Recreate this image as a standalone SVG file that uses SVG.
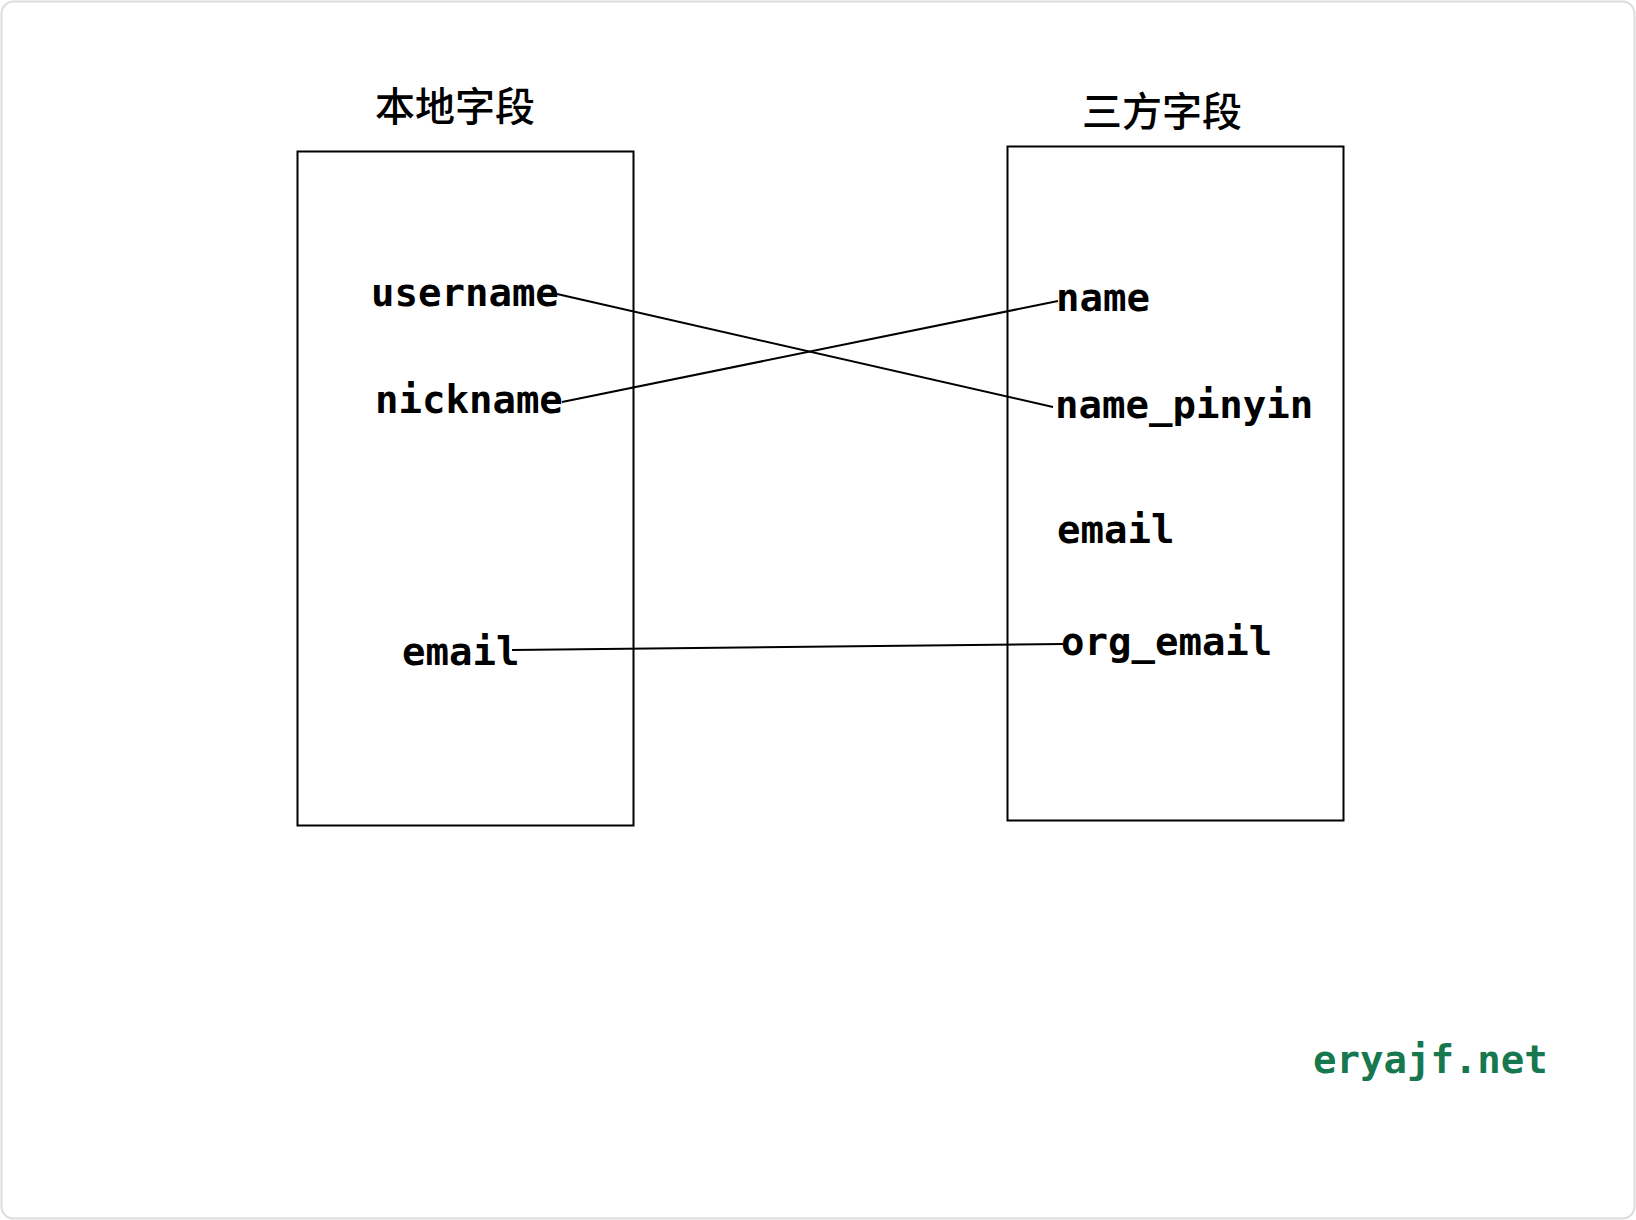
<svg xmlns="http://www.w3.org/2000/svg" width="1636" height="1220" viewBox="0 0 1636 1220">
<style>
.box{fill:none;stroke:#000;stroke-width:2}
.title{font-family:"Noto Sans CJK SC","Noto Sans",sans-serif;font-size:40px;font-weight:500;fill:#000;text-anchor:middle}
.field{font-family:"DejaVu Sans Mono","Liberation Mono",monospace;font-size:39px;font-weight:bold;fill:#000}
.conn{stroke:#000;stroke-width:2;fill:none}
.mark{font-family:"DejaVu Sans Mono","Liberation Mono",monospace;font-size:39px;font-weight:bold;fill:#17784f}
</style>
<rect x="0" y="0" width="1636" height="1220" fill="#fff"/>
<rect x="1.5" y="1.5" width="1633" height="1217" rx="12" fill="#fff" stroke="#dcdcdc" stroke-width="2"/>
<g id="local">
<text class="title" x="455" y="121">本地字段</text>
<rect class="box" x="297.5" y="151.5" width="336" height="674"/>
<text class="field" x="371" y="306">username</text>
<text class="field" x="375" y="413">nickname</text>
<text class="field" x="402" y="665">email</text>
</g>
<g id="thirdparty">
<text class="title" x="1162" y="126">三方字段</text>
<rect class="box" x="1007.5" y="146.5" width="336" height="674"/>
<text class="field" x="1056" y="311">name</text>
<text class="field" x="1055" y="418">name_pinyin</text>
<text class="field" x="1057" y="543">email</text>
<text class="field" x="1061" y="655">org_email</text>
</g>
<g id="connectors">
<line class="conn" x1="557" y1="294" x2="1053" y2="407"/>
<line class="conn" x1="562" y1="402" x2="1058" y2="301"/>
<line class="conn" x1="512" y1="650" x2="1063" y2="644"/>
</g>
<text class="mark" x="1313" y="1073">eryajf.net</text>
</svg>
